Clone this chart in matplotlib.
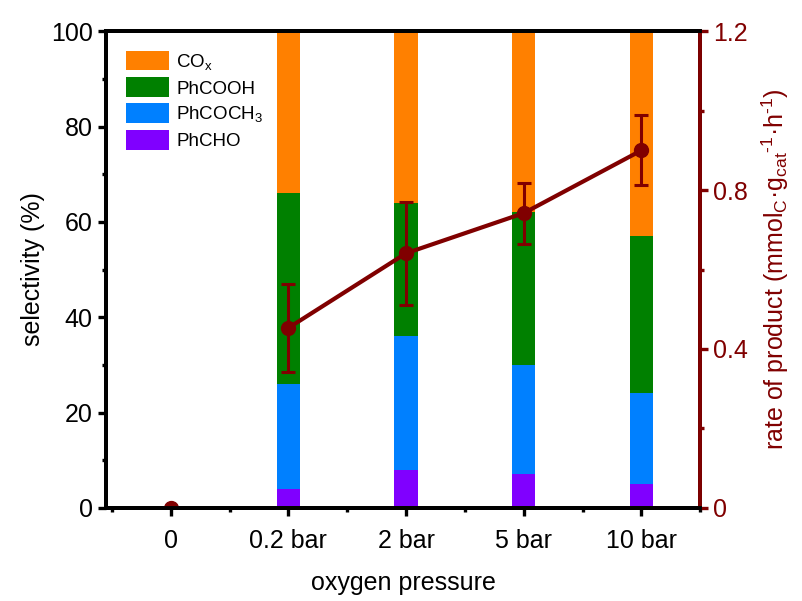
import numpy as np
import matplotlib
matplotlib.use("Agg")
import matplotlib.pyplot as plt
from matplotlib.ticker import MultipleLocator

plt.rcParams["font.family"] = ["Liberation Sans", "DejaVu Sans"]
plt.rcParams["mathtext.default"] = "regular"
plt.rcParams["axes.unicode_minus"] = False

# data
labels = ["0", "0.2 bar", "2 bar", "5 bar", "10 bar"]
phcho = [0, 4, 8, 7, 5]
phcoch3 = [0, 22, 28, 23, 19]
phcooh = [0, 40, 28, 32, 33]
cox = [0, 34, 36, 38, 43]
rate = [0, 0.453, 0.641, 0.742, 0.900]
rate_err = [0, 0.110, 0.130, 0.077, 0.088]

DARKRED = "#800000"
x = np.arange(len(labels))

fig = plt.figure(figsize=(8.03, 6.01), dpi=100)
ax = fig.add_axes([0.132, 0.155, 0.740, 0.793])

w = 0.2
b1 = np.array(phcho)
b2 = b1 + np.array(phcoch3)
b3 = b2 + np.array(phcooh)
h_cho = ax.bar(x, phcho, w, color="#8000FF", label="PhCHO")
h_coch3 = ax.bar(x, phcoch3, w, bottom=b1, color="#0080FF", label="PhCOCH$_3$")
h_cooh = ax.bar(x, phcooh, w, bottom=b2, color="#008000", label="PhCOOH")
h_cox = ax.bar(x, cox, w, bottom=b3, color="#FF8000", label="CO$_x$")

ax.set_xlim(-0.55, 4.5)
ax.set_ylim(0, 100)
ax.set_xticks(x)
ax.set_xticklabels(labels)
ax.xaxis.set_minor_locator(MultipleLocator(0.5))
ax.yaxis.set_major_locator(MultipleLocator(20))
ax.yaxis.set_minor_locator(MultipleLocator(10))
ax.tick_params(axis="both", which="major", labelsize=18, width=2.4, length=6,
               direction="out")
ax.tick_params(axis="x", which="major", pad=9)
ax.tick_params(axis="both", which="minor", width=2.4, length=3, direction="out")
ax.set_xlabel("oxygen pressure", fontsize=18, labelpad=13)
ax.set_ylabel("selectivity (%)", fontsize=18, labelpad=4)
for s in ax.spines.values():
    s.set_linewidth(2.8)

ax2 = ax.twinx()
ax2.set_ylim(0, 1.2)
ax2.errorbar(x[1:], rate[1:], yerr=rate_err[1:], color=DARKRED, lw=3,
             marker="o", ms=10, capsize=5, capthick=2.2, elinewidth=2.2)
ax2.plot(x[0], rate[0], "o", color=DARKRED, ms=10)
ax2.set_yticks([0, 0.4, 0.8, 1.2])
ax2.set_yticklabels(["0", "0.4", "0.8", "1.2"])
ax2.yaxis.set_minor_locator(MultipleLocator(0.2))
ax2.tick_params(axis="y", which="major", labelsize=18, width=2.4, length=6,
                colors=DARKRED)
ax2.tick_params(axis="y", which="minor", width=2.4, length=3, colors=DARKRED)
for s in ax2.spines.values():
    s.set_linewidth(2.8)
ax2.spines["right"].set_color(DARKRED)
ax2.set_ylabel("rate of product (mmol$_C$·g$_{cat}$$^{\u20101}$·h$^{\u20101}$)",
               fontsize=18, color=DARKRED, labelpad=8)

ax.legend(handles=[h_cox, h_cooh, h_coch3, h_cho], loc="upper left",
          bbox_to_anchor=(0.005, 0.995), frameon=False, fontsize=13.5,
          handlelength=2.3, handleheight=1.25, labelspacing=0.3,
          handletextpad=0.4)

fig.savefig("out.png", dpi=100)
